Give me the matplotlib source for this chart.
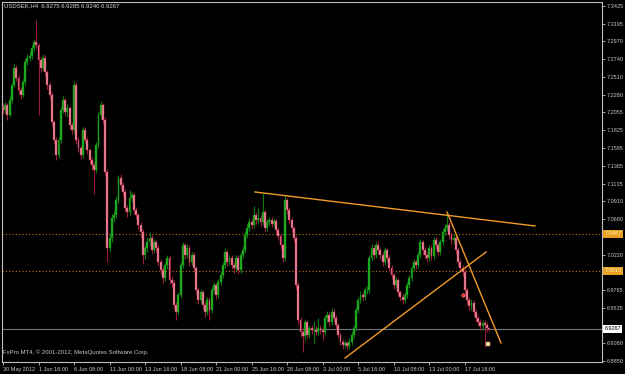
import matplotlib.pyplot as plt
import matplotlib.transforms as mtransforms
import numpy as np

# USDSEK H4 candles, 30 May 2012 -> 19 Jul 2012
symbol = 'USDSEK,H4'
last_ohlc = [6.9275, 6.9285, 6.9240, 6.9267]

first_open = 7.212
closes = [
    7.208, 7.215, 7.202, 7.221, 7.241, 7.263, 7.250, 7.234, 7.228, 7.245,
    7.270, 7.276, 7.278, 7.288, 7.296, 7.292, 7.273, 7.263, 7.276, 7.257,
    7.241, 7.228, 7.193, 7.170, 7.150, 7.170, 7.208, 7.221, 7.206, 7.211,
    7.189, 7.183, 7.241, 7.170, 7.159, 7.150, 7.183, 7.170, 7.157, 7.144,
    7.138, 7.131, 7.163, 7.202, 7.215, 7.196, 7.129, 7.031, 7.043, 7.069,
    7.073, 7.092, 7.121, 7.112, 7.103, 7.082, 7.077, 7.095, 7.099, 7.080,
    7.073, 7.060, 7.051, 7.022, 7.031, 7.038, 7.043, 7.028, 7.038, 7.031,
    7.013, 7.002, 6.992, 7.009, 7.018, 6.989, 6.986, 6.957, 6.948, 6.970,
    7.009, 7.034, 7.022, 7.031, 7.013, 7.022, 7.005, 6.976, 6.964, 6.974,
    6.957, 6.948, 6.964, 6.951, 6.976, 6.983, 6.970, 6.987, 6.996, 7.009,
    7.025, 7.013, 7.018, 7.009, 7.005, 7.018, 7.002, 7.022, 7.028, 7.047,
    7.056, 7.064, 7.060, 7.073, 7.067, 7.069, 7.064, 7.077, 7.056, 7.064,
    7.067, 7.062, 7.065, 7.054, 7.046, 7.034, 7.018, 7.092, 7.080, 7.067,
    7.056, 7.043, 6.983, 6.938, 6.922, 6.917, 6.935, 6.919, 6.928, 6.925,
    6.925, 6.922, 6.928, 6.925, 6.922, 6.940, 6.944, 6.935, 6.948, 6.940,
    6.931, 6.919, 6.910, 6.906, 6.908, 6.904, 6.910, 6.919, 6.928, 6.951,
    6.964, 6.970, 6.967, 6.976, 6.976, 7.018, 7.031, 7.022, 7.034, 7.028,
    7.022, 7.013, 7.028, 7.018, 7.005, 6.996, 6.983, 6.989, 6.974, 6.967,
    6.964, 6.970, 6.983, 6.992, 7.005, 7.013, 7.009, 7.022, 7.038, 7.028,
    7.022, 7.018, 7.031, 7.020, 7.041, 7.034, 7.025, 7.038, 7.051, 7.056,
    7.060, 7.047, 7.041, 7.043, 7.028, 7.013, 7.005, 7.000, 6.976, 6.964,
    6.956, 6.960, 6.948, 6.940, 6.935, 6.930, 6.934, 6.931, 6.9275, 6.9267,
]
highs = [
    7.217, 7.219, 7.218, 7.226, 7.245, 7.268, 7.266, 7.253, 7.238, 7.249,
    7.274, 7.281, 7.284, 7.292, 7.300, 7.324, 7.295, 7.277, 7.280, 7.279,
    7.260, 7.244, 7.231, 7.196, 7.173, 7.174, 7.212, 7.226, 7.224, 7.216,
    7.214, 7.193, 7.246, 7.244, 7.174, 7.163, 7.187, 7.186, 7.173, 7.160,
    7.148, 7.142, 7.167, 7.206, 7.220, 7.218, 7.199, 7.133, 7.048, 7.074,
    7.078, 7.097, 7.125, 7.126, 7.116, 7.106, 7.086, 7.105, 7.103, 7.102,
    7.084, 7.076, 7.064, 7.055, 7.035, 7.043, 7.051, 7.047, 7.042, 7.041,
    7.034, 7.016, 7.006, 7.013, 7.022, 7.021, 6.994, 6.990, 6.961, 6.974,
    7.013, 7.038, 7.037, 7.036, 7.034, 7.026, 7.025, 7.008, 6.980, 6.978,
    6.977, 6.961, 6.968, 6.967, 6.980, 6.987, 6.986, 6.991, 7.000, 7.013,
    7.030, 7.028, 7.022, 7.021, 7.013, 7.022, 7.021, 7.026, 7.033, 7.052,
    7.061, 7.069, 7.068, 7.085, 7.077, 7.082, 7.073, 7.101, 7.080, 7.068,
    7.071, 7.071, 7.069, 7.068, 7.058, 7.049, 7.037, 7.099, 7.095, 7.083,
    7.070, 7.059, 7.046, 6.987, 6.942, 6.927, 6.939, 6.938, 6.932, 6.932,
    6.936, 6.930, 6.940, 6.932, 6.929, 6.944, 6.950, 6.948, 6.953, 6.952,
    6.944, 6.934, 6.922, 6.913, 6.912, 6.911, 6.914, 6.923, 6.932, 6.955,
    6.968, 6.975, 6.974, 6.980, 6.982, 7.022, 7.036, 7.035, 7.038, 7.039,
    7.032, 7.026, 7.032, 7.031, 7.021, 7.009, 6.999, 6.993, 6.992, 6.977,
    6.972, 6.974, 6.987, 6.996, 7.009, 7.017, 7.017, 7.026, 7.042, 7.041,
    7.032, 7.026, 7.035, 7.034, 7.045, 7.045, 7.038, 7.042, 7.055, 7.061,
    7.076, 7.064, 7.051, 7.048, 7.047, 7.032, 7.017, 7.009, 7.004, 6.980,
    6.968, 6.965, 6.964, 6.952, 6.944, 6.939, 6.938, 6.938, 6.935, 6.9285,
]
lows = [
    7.203, 7.204, 7.196, 7.199, 7.217, 7.238, 7.246, 7.229, 7.222, 7.225,
    7.241, 7.266, 7.271, 7.274, 7.284, 7.287, 7.202, 7.258, 7.259, 7.252,
    7.236, 7.223, 7.188, 7.165, 7.144, 7.146, 7.166, 7.204, 7.201, 7.200,
    7.184, 7.177, 7.179, 7.165, 7.154, 7.145, 7.146, 7.166, 7.152, 7.139,
    7.131, 7.100, 7.127, 7.159, 7.197, 7.191, 7.124, 7.012, 7.026, 7.038,
    7.064, 7.069, 7.088, 7.107, 7.098, 7.077, 7.071, 7.073, 7.090, 7.075,
    7.068, 7.055, 7.045, 7.010, 7.017, 7.026, 7.033, 7.023, 7.024, 7.026,
    7.008, 6.997, 6.986, 6.988, 7.004, 6.984, 6.980, 6.952, 6.938, 6.944,
    6.966, 7.005, 7.017, 7.018, 7.008, 7.009, 7.000, 6.971, 6.958, 6.960,
    6.952, 6.942, 6.944, 6.938, 6.947, 6.972, 6.965, 6.966, 6.983, 6.992,
    7.005, 7.008, 7.009, 7.004, 6.999, 7.001, 6.997, 6.998, 7.018, 7.024,
    7.043, 7.052, 7.055, 7.056, 7.062, 7.063, 7.059, 7.060, 7.051, 7.052,
    7.060, 7.058, 7.058, 7.049, 7.041, 7.029, 7.013, 7.014, 7.075, 7.062,
    7.051, 7.038, 6.978, 6.933, 6.916, 6.896, 6.912, 6.914, 6.915, 6.920,
    6.907, 6.917, 6.918, 6.920, 6.912, 6.918, 6.935, 6.930, 6.931, 6.935,
    6.926, 6.914, 6.905, 6.900, 6.902, 6.899, 6.900, 6.906, 6.915, 6.924,
    6.947, 6.960, 6.962, 6.963, 6.971, 6.972, 7.014, 7.017, 7.018, 7.023,
    7.017, 7.008, 7.009, 7.013, 7.000, 6.991, 6.978, 6.979, 6.969, 6.962,
    6.958, 6.960, 6.966, 6.979, 6.988, 7.001, 7.004, 7.005, 7.018, 7.023,
    7.017, 7.013, 7.014, 7.015, 7.016, 7.029, 7.020, 7.021, 7.034, 7.047,
    7.052, 7.042, 7.036, 7.036, 7.023, 7.008, 7.000, 6.995, 6.971, 6.958,
    6.951, 6.951, 6.943, 6.935, 6.930, 6.925, 6.926, 6.903, 6.922, 6.9240,
]

time_labels = ['30 May 2012', '1 Jun 16:00', '6 Jun 08:00', '11 Jun 00:00',
               '13 Jun 16:00', '18 Jun 08:00', '21 Jun 00:00', '25 Jun 16:00',
               '28 Jun 08:00', '3 Jul 00:00', '5 Jul 16:00', '10 Jul 08:00',
               '13 Jul 00:00', '17 Jul 16:00']
time_label_bars = [0, 16, 32, 48, 64, 80, 96, 112, 128, 144, 160, 176, 192, 208]

price_ticks = [7.3425, 7.3195, 7.2970, 7.2740, 7.2510, 7.2280, 7.2055, 7.1825,
               7.1595, 7.1365, 7.1135, 7.0910, 7.0680, 7.0450, 7.0220, 6.9990,
               6.9765, 6.9535, 6.9305, 6.9080, 6.8850]
# these sit under the price boxes on the scale
hidden_ticks = [7.0450, 6.9990, 6.9305]

# horizontal levels (dotted orange) and hand drawn trend lines (bar, price)
level_prices = [7.0487, 7.0010]
level_labels = ['7.0487', '7.0010']
trend_lines = [
    [(113.5, 7.1028), (239.6, 7.0590)],
    [(154.1, 6.8889), (217.6, 7.0255)],
    [(200.0, 7.0770), (224.3, 6.9082)],
]
red_mark = (207.3, 6.9700)
arrow_mark = (218.5, 6.9072)

bg = '#000000'
frame = '#c0c0c0'
txt = '#c8c8c8'
orange = '#f39a28'

plt.rcParams['font.family'] = ['Liberation Sans', 'DejaVu Sans']

fig = plt.figure(figsize=(6.25, 3.74), dpi=100, facecolor=bg)
ax = fig.add_axes([2 / 625, 12 / 374, 600 / 625, 360 / 374], facecolor=bg)

c = np.array(closes)
o = np.array([first_open] + closes[:-1])
h = np.array(highs)
l = np.array(lows)
x = np.arange(len(c))
up = c >= o
dn = ~up

# wicks then bodies
ax.vlines(x[up], l[up], h[up], color='#0b7d0b', lw=0.8, zorder=2)
ax.vlines(x[dn], l[dn], h[dn], color='#9c1c38', lw=0.8, zorder=2)
ax.bar(x[up], c[up] - o[up], bottom=o[up], width=0.85, color='#1fb01f',
       edgecolor='#128a12', linewidth=0.3, zorder=3)
ax.bar(x[dn], c[dn] - o[dn], bottom=o[dn], width=0.85, color='#f08c9c',
       edgecolor='#b03050', linewidth=0.3, zorder=3)

# levels
for p in level_prices:
    ax.axhline(p, color='#c87414', lw=0.8, ls=(0, (1, 2)), zorder=1)
ax.axhline(last_ohlc[3], color='#6e7482', lw=0.8, zorder=1)

for (x0, y0), (x1, y1) in trend_lines:
    ax.plot([x0, x1], [y0, y1], color=orange, lw=1.0, zorder=4)

ax.plot(*red_mark, 'o', ms=2.5, mfc='#ff2020', mec='#ffb0b0', mew=0.4, zorder=5)
ax.plot(*arrow_mark, 's', ms=2.2, mfc='#f4e0b0', mec='#c09040', mew=0.3, zorder=5)

ax.set_xlim(-0.45, 269.8)
ax.set_ylim(6.8837, 7.3476)

for s in ax.spines.values():
    s.set_color(frame)
    s.set_linewidth(0.8)

ax.yaxis.tick_right()
ax.set_yticks(price_ticks)
ax.set_yticklabels(['' if p in hidden_ticks else '%.4f' % p for p in price_ticks])
ax.set_xticks(time_label_bars)
ax.set_xticklabels(time_labels)
ax.tick_params(axis='y', colors=frame, labelcolor=txt, labelsize=4, length=2,
               width=0.6, pad=1.5)
ax.tick_params(axis='x', colors=frame, labelcolor=txt, labelsize=4, length=2.5,
               width=0.6, pad=1)
for t in ax.get_xticklabels():
    t.set_ha('left')

# price boxes on the scale
trans = mtransforms.blended_transform_factory(ax.transAxes, ax.transData)
for p, lab in zip(level_prices, level_labels):
    ax.text(1.004, p, lab, transform=trans, fontsize=4, color='#fff2c0', va='center',
            ha='left', bbox=dict(boxstyle='square,pad=0.25', fc='#e8a020', ec='none'),
            clip_on=False, zorder=6)
ax.text(1.004, last_ohlc[3], '%.4f' % last_ohlc[3], transform=trans, fontsize=4,
        color='black', va='center', ha='left',
        bbox=dict(boxstyle='square,pad=0.25', fc='white', ec='none'),
        clip_on=False, zorder=6)

fig.text(4 / 625, 1 - 6 / 374, '%s  %.4f %.4f %.4f %.4f' % (symbol, *last_ohlc),
         fontsize=4.3, color='#d8d8d8', va='center', ha='left')
fig.text(3 / 625, 1 - 352 / 374, 'FxPro MT4, © 2001-2012, MetaQuotes Software Corp.',
         fontsize=4.3, color='#c8c8c8', va='center', ha='left')

plt.savefig('out.png', dpi=100, facecolor=bg)
